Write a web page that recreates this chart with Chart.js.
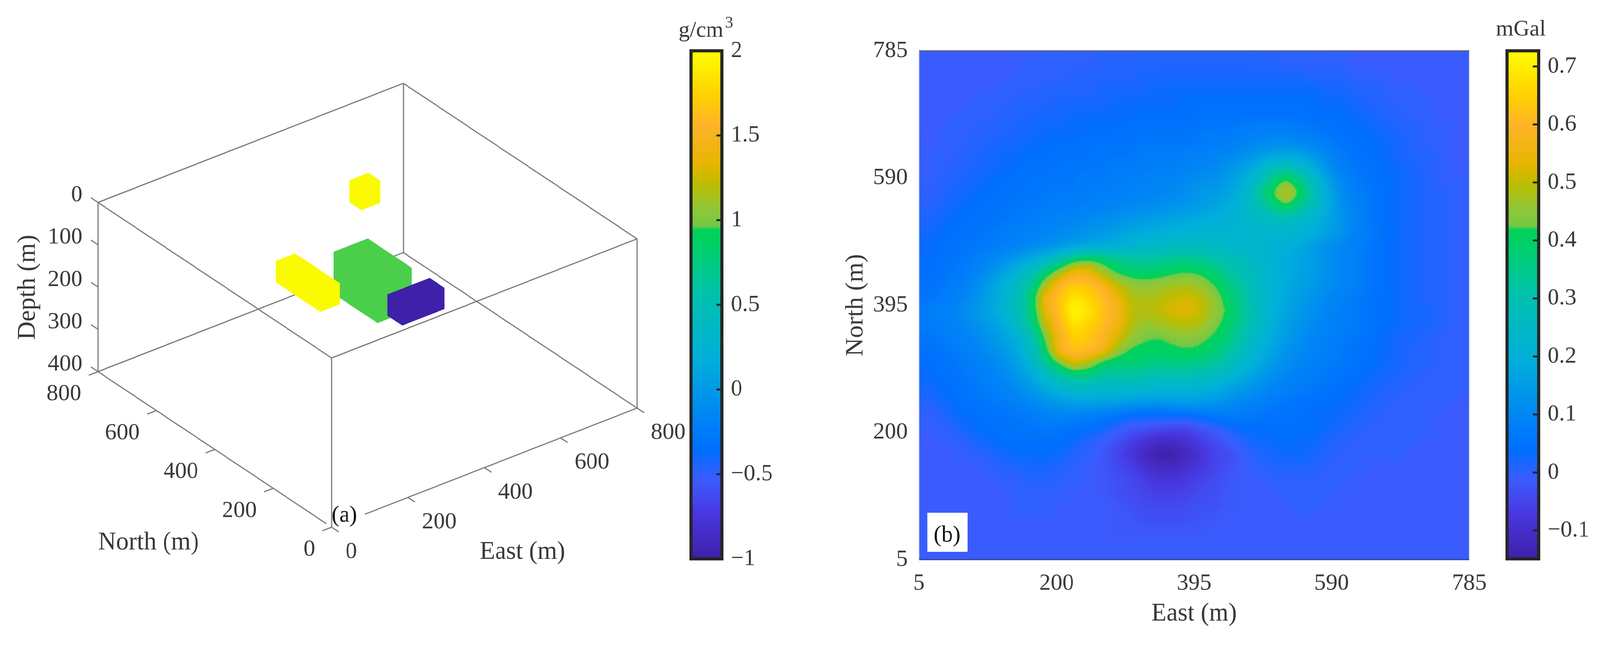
<!DOCTYPE html>
<html>
<head>
<meta charset="utf-8">
<title>Density model and gravity anomaly</title>
<script src="https://cdn.jsdelivr.net/npm/chart.js@4"></script>
<style>
  html, body { margin: 0; background: #fff; overflow: hidden; }
  /* the window comes out 4096 wide, so the 4149 layout is pressed to fit */
  #page { position: relative; width: 4149px; height: 1653px; overflow: hidden; transform-origin: 0 0; }
  canvas { position: absolute; top: 0; }
</style>
</head>
<body>
<div id="page">
<canvas id="model" width="1790" height="1653" style="left:0"></canvas>
<canvas id="densityBar" width="450" height="1653" style="left:1700px"></canvas>
<canvas id="map" width="1710" height="1653" style="left:2170px"></canvas>
<canvas id="gravityBar" width="349" height="1653" style="left:3860px"></canvas>
</div>
<script>
document.getElementById('page').style.transform = `scaleX(${Math.min(1, window.innerWidth / 4149)})`;

// Bodies of the density model (a), in metres
const bodyEastMin = [292, 200, 356, 495];
const bodyEastMax = [402, 250, 445, 544];
const bodyNorthMin = [140, 300, 308, 545];
const bodyNorthMax = [190, 452, 458, 585];
const bodyDepthMin = [40, 49, 85, 23];
const bodyDepthMax = [90, 99, 184, 75];
const bodyColors = ['#3f20a8', '#fafa00', '#4bcf4b', '#fafa00'];

const eastTicks = [0, 200, 400, 600, 800];
const northTicks = [0, 200, 400, 600, 800];
const depthTicks = [0, 100, 200, 300, 400];

// Colour bars
const densityTicks = [2, 1.5, 1, 0.5, 0, -0.5, -1];
const gravityTicks = [0.7, 0.6, 0.5, 0.4, 0.3, 0.2, 0.1, 0, -0.1];
const mapTicks = [5, 200, 395, 590, 785];

const colormapStops = [0, 0.09, 0.157, 0.214, 0.28, 0.365, 0.399, 0.513, 0.627, 0.648, 0.655, 0.684, 0.741, 0.775, 0.855, 0.912, 1];
const colormapColors = ['#3f1fa8', '#4838e0', '#3a5cff', '#006fff', '#0085f5', '#00a5e0', '#00b0d8', '#00c0b0', '#00d060', '#00d25a',
  '#74c844', '#8cc83a', '#c0bc00', '#e5b500', '#ffb428', '#ffd000', '#ffff00'];

// Gravity anomaly (b), mGal x 100, one row per 20 m from north 785 down to 5, east 5 to 785
const gravityRows = [
  [-1,-1,-1,-1,-1,-1,-1,-1,-1,-1, 0,0,0,0,0,0,0,1,1,1, 1,1,1,1,0,0,0,0,0,0, -1,-1,-1,-1,-1,-1,-1,-1,-1,-1],
  [-1,-1,-1,-1,-1,-1,-1,-1,0,0, 0,0,0,1,1,1,1,1,1,1, 1,1,1,1,1,1,0,0,0,0, 0,-1,-1,-1,-1,-1,-1,-1,-1,-1],
  [-1,-1,-1,-1,-1,-1,-1,0,0,0, 0,1,1,1,1,1,2,2,2,2, 2,2,2,2,2,2,2,2,1,1, 1,0,0,0,-1,-1,-1,-1,-1,-1],
  [-1,-1,-1,-1,-1,-1,0,0,0,1, 1,1,1,2,2,2,2,3,3,3, 3,3,3,3,3,3,3,3,3,2, 2,1,1,0,0,0,-1,-1,-1,-1],
  [-1,-1,-1,-1,0,0,0,1,1,1, 2,2,2,2,3,3,3,3,3,4, 4,4,4,4,4,4,4,4,4,3, 3,2,1,1,0,0,0,-1,-1,-1],
  [-1,-1,-1,0,0,0,1,1,2,2, 2,3,3,3,3,3,4,4,4,4, 5,5,5,5,5,5,5,5,4,4, 4,3,2,1,1,0,0,-1,-1,-1],
  [-1,-1,0,0,0,1,1,2,2,3, 3,3,4,4,4,5,5,5,5,5, 6,6,6,7,8,8,8,7,6,5, 4,4,3,2,1,1,0,0,-1,-1],
  [-1,-1,-0.5,0,1,1,2,2,3,3, 4,4,5,5,5,5,6,6,6,6, 7,7,8,9,10,11,11,10,9,7, 5,4,4,3,2,1,0,0,-1,-1],
  [-1,-0.5,0,0.7,1.2,2,2.5,3,4,4, 5,5,5,6,6,6,7,7,7,8, 8,9,10,12,14,16,17,16,13,10, 7,5,4,3,2,1,1,0,-1,-1],
  [-1,-0.4,0.3,1,1.7,2.3,3,4,5,5, 5,6,6,6,7,7,7,8,8,9, 10,11,13,16,20,27,30,25,19,12, 8,6,5,4,3,2,1,0,-1,-1],
  [-0.7,0,0.8,1.6,2.4,3.2,4,5,5,6, 6,6,7,7,8,8,9,9,10,11, 12,13,15,19,26,36,44,36,26,16, 10,7,5,4,3,2,1,0,0,-1],
  [-0.4,0.3,1.2,2.2,3.3,4,5,5.5,6,6.5, 7,7,7,8,8,9,10,10,11,12, 14,15,17,22,32,42,52,42,29,18, 11,8,6,4,3,2,1,1,0,-1],
  [0,0.8,2,3.3,4,4.6,5.3,6,6.5,7, 7.5,8,8.5,9,10,10.5,11,12,13,14, 15,17,19,23,28,34,41,34,27,19, 12,9,6,4,3,2,1,1,0,-1],
  [0.5,1.5,3.1,4,4.7,5.3,6,6.8,7.8,8.5, 9,10,11,12,13,14,15,16,17,18, 19,20,21,23,25,26,27,25,21,17, 13,9,6,4,3,2,1,1,0,-1],
  [1,2.8,3.9,4.7,5.3,6.2,7,8,9,10, 11,12,13,14,16,18,19,20,21,22, 22,22,22,23,23,23,23,22,20,16, 13,9,7,5,3,2,1,1,0,-1],
  [2,3.5,4.4,5.2,6.2,7.2,8.2,9.2,10.5,12, 13,15,17,18,19,21,23,24,25,26, 26,25,24,23,22,21,20,18,15,12, 10,8,6,4,3,2,1,1,0,-1],
  [3,3.9,5,6.2,8,10,12,14.5,18,22, 29,38,41,39,35,33,32,33,34,35, 33,31,29,27,24,21,19,17,15,12, 10,8,6,4,3,2,1,1,0,-1],
  [3.4,4.4,5.6,7.2,9.2,12,16,22,28,37, 47,57,56,47,41,39,38,39,41,42, 41,37,32,29,25,22,19,17,15,12, 10,8,6,4,3,2,1,1,0,-1],
  [3.8,5,6.4,8.2,11,15,20,27,34,48, 60,64,63,59,50,46,45,46,47,48, 46,42,36,31,26,22,19,16,14,12, 10,8,6,4,3,2,1,1,0,-1],
  [4.8,6,7.5,9.2,12,16,21,28,38,57, 63,69,66,62,56,49,48,49,51,52, 50,45,39,33,27,21,18,15,13,10, 9,7,5,4,3,2,1,1,0,-1],
  [6.5,8,9,11,14,17,21,28,37,55, 63,76,69,63,58,50,49,50,52,53, 51,46,41,34,27,21,17,14,12,10, 7,6,5,4,3,2,2,1,0,-1],
  [6,7.5,8.8,10,12,15,18,26,35,50, 61,69,66,62,57,49,46,47,49,50, 48,44,39,32,26,20,16,13,11,9, 8,7,5,4,3,2,2,1,0,-1],
  [5,6.3,7.5,9,10.5,13,16,21,29,44, 58,65,63,60,53,47,43,42,44,45, 44,41,37,30,24,19,15,12,10,8, 7,6,5,3,2,2,1,0,0,-1],
  [3.6,5,6.3,7.8,9.3,11.5,14,18,26,40, 60,63,62,59,47,41,40,40,41,42, 41,38,33,27,22,17,13,11,9,8, 6,5,4,3,2,1,1,0,0,-1],
  [3,4,5.2,6.7,8,10,12,16,23,33, 43,53,48,39,37,38,37,36,36,36, 35,33,29,24,19,15,12,10,8,7, 6,5,4,3,2,1,1,0,0,-1],
  [2,3.5,4.6,5.8,7,8.8,10.5,13,18,25, 31,34,35,31,31,31,30,29,29,29, 28,26,23,19,15,12,10,8,7,6, 5,4,3,2,1,1,0,0,0,-1],
  [0.8,2.6,4,5,6,7.2,9,11,14,18, 22,25,25,24,24,24,23,22,21,21, 20,19,16,14,12,10,8,7,6,5, 4,3,2,1,1,0,0,0,0,-1],
  [0,1.2,3,4.2,5.2,6,7,8.5,10.5,12.5, 14,16,16,16,16,15,14,14,15,16, 15,14,12,10,9,7,6,5,4,4, 3,3,1,1,0,0,0,0,-1,-1],
  [-0.5,0,1.5,3.2,4,4.8,5.5,6.5,7.5,8.5, 9,9,8,7,5,3,3,3,3,3, 5,7,7,7,6,5,5,4,4,3, 3,1,1,0,0,0,0,-1,-1,-1],
  [-1,-0.5,0,2,3.6,4.5,5,5.5,6,6.5, 6,5,4,3,0,-2,-3,-4,-5,-5, -3,-1,2,4,4,4,4,4,4,3, 1,1,0,0,0,0,0,-1,-1,-1],
  [-1,-1,-0.5,0,1.5,3,4,4.5,4.5,4.5, 4,3,1,-1,-3,-6,-9,-11,-11,-9, -6,-4,-1,1,3,3,4,3,3,1, 1,0,0,0,0,0,-1,-1,-1,-1],
  [-1,-1,-1,-0.5,0,1,2,3.5,3.5,3.5, 3,1,0,-2,-5,-8,-12,-15,-15,-12, -9,-5,-4,-1,1,2,3,3,2,1, 0,0,0,0,0,-1,-1,-1,-1,-1],
  [-1,-1,-1,-1,-1,0,1,1,2,2, 1,0,-1,-2,-4,-6,-9,-11,-11,-9, -7,-5,-3,-1,0,1,1,1,1,0, 0,0,-1,-1,-1,-1,-1,-1,-1,-1],
  [-1,-1,-1,-1,-1,-1,0,0,1,1, 0,0,-1,-2,-3,-4,-6,-8,-8,-7, -5,-4,-2,-1,-1,0,0,0,0,0, 0,-1,-1,-1,-1,-1,-1,-1,-1,-1],
  [-1,-1,-1,-1,-1,-1,-1,0,0,0, 0,-1,-1,-2,-3,-4,-5,-6,-6,-5, -4,-3,-2,-1,-1,-1,0,0,0,0, -1,-1,-1,-1,-1,-1,-1,-1,-1,-1],
  [-1,-1,-1,-1,-1,-1,-1,0,0,0, -1,-1,-1,-1,-2,-3,-4,-4,-4,-4, -3,-3,-2,-1,-1,-1,-1,0,0,-1, -1,-1,-1,-1,-1,-1,-1,-1,-1,-1],
  [-1,-1,-1,-1,-1,-1,-1,-1,-1,-1, -1,-1,-1,-1,-2,-2,-3,-3,-3,-3, -2,-2,-1,-1,-1,-1,-1,-1,-1,-1, -1,-1,-1,-1,-1,-1,-1,-1,-1,-1],
  [-1,-1,-1,-1,-1,-1,-1,-1,-1,-1, -1,-1,-1,-1,-2,-2,-2,-2,-2,-2, -2,-1,-1,-1,-1,-1,-1,-1,-1,-1, -1,-1,-1,-1,-1,-1,-1,-1,-1,-1],
  [-1,-1,-1,-1,-1,-1,-1,-1,-1,-1, -1,-1,-1,-1,-1,-1,-1,-1,-1,-1, -1,-1,-1,-1,-1,-1,-1,-1,-1,-1, -1,-1,-1,-1,-1,-1,-1,-1,-1,-1],
  [-1,-1,-1,-1,-1,-1,-1,-1,-1,-1, -1,-1,-1,-1,-1,-1,-1,-1,-1,-1, -1,-1,-1,-1,-1,-1,-1,-1,-1,-1, -1,-1,-1,-1,-1,-1,-1,-1,-1,-1],
];

const GRAVITY_MIN = -0.149;
const GRAVITY_MAX = 0.727;
const SERIF = '"Liberation Serif", "Times New Roman", serif';
const TEXT_COLOR = '#3a3a3a';
const LINE_COLOR = '#7c7c7c';
const TICK_SIZE = 60;

Chart.defaults.animation = false;
Chart.defaults.responsive = false;
Chart.defaults.devicePixelRatio = 1;
Chart.defaults.font.family = SERIF;
Chart.defaults.color = TEXT_COLOR;
Chart.defaults.plugins.legend.display = false;
Chart.defaults.plugins.tooltip.enabled = false;

function hexToRgb(hex) {
  return [1, 3, 5].map(i => parseInt(hex.slice(i, i + 2), 16));
}

// 256 entry table for the colormap
const colormapLut = [];
for (let k = 0; k < 256; k++) {
  const t = k / 255;
  let s = 0;
  while (s < colormapStops.length - 2 && t > colormapStops[s + 1]) s++;
  const f = (t - colormapStops[s]) / (colormapStops[s + 1] - colormapStops[s]);
  const a = hexToRgb(colormapColors[s]);
  const b = hexToRgb(colormapColors[s + 1]);
  colormapLut.push([0, 1, 2].map(c => Math.round(a[c] + (b[c] - a[c]) * f)));
}

function drawText(ctx, text, x, y, size, align, rotation, color) {
  ctx.save();
  ctx.font = size + 'px ' + SERIF;
  ctx.fillStyle = color || TEXT_COLOR;
  ctx.textAlign = align || 'center';
  ctx.textBaseline = 'alphabetic';
  ctx.translate(x, y);
  if (rotation) ctx.rotate(rotation);
  ctx.fillText(text, 0, 0);
  ctx.restore();
}

/* ---------- panel (a): isometric view of the model ---------- */

function project(east, north, depth) {
  return {
    x: 860 + 0.99 * east - 0.7575 * north,
    y: 1349 - 0.381 * east - 0.4975 * north - 1.0825 * (400 - depth),
  };
}

function bodyOutline(i) {
  const e0 = bodyEastMin[i], e1 = bodyEastMax[i];
  const n0 = bodyNorthMin[i], n1 = bodyNorthMax[i];
  const d0 = bodyDepthMin[i], d1 = bodyDepthMax[i];
  return [
    project(e0, n1, d0), project(e1, n1, d0), project(e1, n0, d0),
    project(e1, n0, d1), project(e0, n0, d1), project(e0, n1, d1),
    project(e0, n1, d0),
  ];
}

function frameSegments() {
  const pts = [];
  const seg = (a, b) => pts.push(project(...a), project(...b), { x: NaN, y: NaN });
  const gapNorth = 18, gapEast = 87, tick = 24;
  // top square
  seg([0, 0, 0], [800, 0, 0]);
  seg([800, 0, 0], [800, 800, 0]);
  seg([800, 800, 0], [0, 800, 0]);
  seg([0, 800, 0], [0, 0, 0]);
  // uprights
  seg([0, 0, 0], [0, 0, 400]);
  seg([800, 0, 0], [800, 0, 400]);
  seg([800, 800, 0], [800, 800, 400]);
  seg([0, 800, 0], [0, 800, 400]);
  // floor, the two front edges stop short of the (a) label
  seg([0, 800, 400], [800, 800, 400]);
  seg([800, 800, 400], [800, 0, 400]);
  seg([800, 0, 400], [gapEast, 0, 400]);
  seg([0, 800, 400], [0, gapNorth, 400]);
  // ticks
  eastTicks.forEach(e => seg([e, 0, 400], [e, -tick, 400]));
  northTicks.forEach(n => seg([0, n, 400], [-tick, n, 400]));
  depthTicks.forEach(d => seg([0, 800, d], [0, 800 + tick, d]));
  return pts;
}

const modelLabels = {
  id: 'modelLabels',
  afterDatasetsDraw(chart) {
    const { ctx, scales } = chart;
    const at = (e, n, d) => {
      const p = project(e, n, d);
      return { x: scales.x.getPixelForValue(p.x), y: scales.y.getPixelForValue(p.y) };
    };
    depthTicks.forEach(d => {
      const p = at(0, 800, d);
      drawText(ctx, String(d), p.x - 40, p.y - 3, TICK_SIZE, 'right');
    });
    northTicks.forEach(n => {
      const p = at(0, n, 400);
      drawText(ctx, String(n), p.x - 43, p.y + 73, TICK_SIZE, 'right');
    });
    eastTicks.forEach(e => {
      const p = at(e, 0, 400);
      drawText(ctx, String(e), p.x + 36, p.y + 79, TICK_SIZE, 'left');
    });
    drawText(ctx, 'North (m)', 385, 1406, 65);
    drawText(ctx, 'East (m)', 1355, 1430, 65);
    drawText(ctx, 'Depth (m)', 90, 735, 65, 'center', -Math.PI / 2);
    drawText(ctx, '(a)', 893, 1335, 60, 'center', 0, '#111');
  },
};

new Chart(document.getElementById('model'), {
  type: 'scatter',
  data: {
    datasets: [
      ...bodyColors.map((color, i) => ({
        data: bodyOutline(i),
        showLine: true,
        fill: 'shape',
        backgroundColor: color,
        borderColor: color,
        borderWidth: 1,
        pointRadius: 0,
      })),
      {
        data: frameSegments(),
        showLine: true,
        spanGaps: false,
        borderColor: LINE_COLOR,
        borderWidth: 3,
        pointRadius: 0,
      },
    ],
  },
  options: {
    layout: { autoPadding: false },
    scales: {
      x: { display: false, min: 0, max: 1790 },
      y: { display: false, min: 0, max: 1653, reverse: true },
    },
  },
  plugins: [modelLabels],
});

/* ---------- panel (b): gravity map ---------- */

// Cells are painted as grey levels by the chart, then smoothed in value space
// and toned through the colormap, like shading interp.
function valueToGrey(v) {
  const t = (v / 100 - GRAVITY_MIN) / (GRAVITY_MAX - GRAVITY_MIN);
  const g = Math.max(0, Math.min(255, Math.round(t * 255)));
  return `rgb(${g},${g},${g})`;
}

const mapPoints = [];
const mapCellColors = [];
gravityRows.forEach((row, r) => {
  row.forEach((v, c) => {
    mapPoints.push({ x: 5 + 20 * c, y: 785 - 20 * r });
    mapCellColors.push(valueToGrey(v));
  });
});

const mapShading = {
  id: 'mapShading',
  afterDatasetsDraw(chart) {
    const a = chart.chartArea;
    const L = Math.round(a.left), T = Math.round(a.top);
    const W = Math.round(a.right - a.left), H = Math.round(a.bottom - a.top);
    const margin = 60, sigma = 15;

    const pad = document.createElement('canvas');
    pad.width = W + 2 * margin;
    pad.height = H + 2 * margin;
    const padCtx = pad.getContext('2d');
    padCtx.drawImage(chart.canvas, L, T, W, H, 0, 0, pad.width, pad.height);
    padCtx.drawImage(chart.canvas, L, T, W, H, margin, margin, W, H);

    const out = document.createElement('canvas');
    out.width = W;
    out.height = H;
    const outCtx = out.getContext('2d', { willReadFrequently: true });
    outCtx.filter = `blur(${sigma}px)`;
    outCtx.drawImage(pad, -margin, -margin);

    const img = outCtx.getImageData(0, 0, W, H);
    const px = img.data;
    for (let i = 0; i < px.length; i += 4) {
      const c = colormapLut[px[i]];
      px[i] = c[0]; px[i + 1] = c[1]; px[i + 2] = c[2]; px[i + 3] = 255;
    }
    chart.ctx.putImageData(img, L, T);

    const ctx = chart.ctx;
    ctx.save();
    const line = (x0, y0, x1, y1, color, width) => {
      ctx.strokeStyle = color;
      ctx.lineWidth = width;
      ctx.beginPath();
      ctx.moveTo(x0, y0);
      ctx.lineTo(x1, y1);
      ctx.stroke();
    };
    line(L, T, L, T + H, 'rgba(170,180,230,0.9)', 2);
    line(L + W, T, L + W, T + H, 'rgba(170,180,230,0.9)', 2);
    line(L, T, L + W, T, 'rgba(95,95,115,0.9)', 3);
    line(L, T + H, L + W, T + H, 'rgba(45,60,140,0.9)', 3);

    // (b) tag
    ctx.fillStyle = '#fff';
    ctx.fillRect(L + 22, T + H - 120, 104, 100);
    ctx.restore();
    drawText(ctx, '(b)', L + 73, T + H - 46, 60, 'center', 0, '#111');
  },
};

new Chart(document.getElementById('map'), {
  type: 'scatter',
  data: {
    datasets: [{
      data: mapPoints,
      pointStyle: 'rect',
      pointRadius: 26.5,
      pointBorderWidth: 0,
      pointBackgroundColor: mapCellColors,
      clip: 0,
    }],
  },
  options: {
    layout: { autoPadding: false, padding: { top: 130, right: 56, left: 0, bottom: 0 } },
    scales: {
      x: {
        type: 'linear',
        min: 5,
        max: 785,
        afterBuildTicks: s => { s.ticks = mapTicks.map(v => ({ value: v })); },
        afterFit: s => { s.height = 221; },
        grid: { display: false, drawTicks: false },
        border: { display: false },
        ticks: { font: { size: TICK_SIZE }, padding: 25, maxRotation: 0, autoSkip: false },
        title: { display: true, text: 'East (m)', font: { size: 65 }, padding: { top: 0, bottom: 43 } },
      },
      y: {
        type: 'linear',
        min: 5,
        max: 785,
        afterBuildTicks: s => { s.ticks = mapTicks.map(v => ({ value: v })); },
        afterFit: s => { s.width = 213; },
        grid: { display: false, drawTicks: false },
        border: { display: false },
        ticks: { font: { size: TICK_SIZE }, padding: 29, autoSkip: false },
        title: { display: true, text: 'North (m)', font: { size: 65 }, padding: { top: 11, bottom: 0 } },
      },
    },
  },
  plugins: [mapShading],
});

/* ---------- colour bars ---------- */

function colorbar(id, lo, hi, tickValues, paddingLeft, axisWidth, tickSize, drawTitle) {
  const frame = {
    id: 'frame' + id,
    afterDatasetsDraw(chart) {
      const { ctx, chartArea: a, scales } = chart;
      ctx.save();
      ctx.strokeStyle = '#262626';
      ctx.lineWidth = 5;
      tickValues.forEach(v => {
        const y = scales.y.getPixelForValue(v);
        ctx.beginPath();
        ctx.moveTo(a.right - tickSize, y);
        ctx.lineTo(a.right, y);
        ctx.stroke();
      });
      ctx.lineWidth = 8;
      ctx.strokeRect(a.left, a.top, a.right - a.left, a.bottom - a.top);
      ctx.restore();
      drawTitle(ctx);
    },
  };
  new Chart(document.getElementById(id), {
    type: 'bar',
    data: {
      labels: [''],
      datasets: [{
        data: [[lo, hi]],
        barPercentage: 1,
        categoryPercentage: 1,
        backgroundColor(c) {
          const a = c.chart.chartArea;
          if (!a) return 'transparent';
          const g = c.chart.ctx.createLinearGradient(0, a.bottom, 0, a.top);
          colormapStops.forEach((s, i) => g.addColorStop(s, colormapColors[i]));
          return g;
        },
      }],
    },
    options: {
      layout: { autoPadding: false, padding: { top: 130, bottom: 223, left: paddingLeft, right: 0 } },
      scales: {
        x: { display: false },
        y: {
          position: 'right',
          min: lo,
          max: hi,
          afterBuildTicks: s => { s.ticks = tickValues.map(v => ({ value: v })); },
          afterFit: s => { s.width = axisWidth; },
          grid: { display: false, drawTicks: false },
          border: { display: false },
          ticks: {
            font: { size: TICK_SIZE },
            padding: 23,
            autoSkip: false,
            callback: v => String(v).replace('-', '\u2212'),
          },
        },
      },
    },
    plugins: [frame],
  });
}

colorbar('densityBar', -1, 2, densityTicks, 92, 278, 14, ctx => {
  drawText(ctx, 'g/cm', 60, 94, 58, 'left');
  drawText(ctx, '3', 180, 71, 42, 'left');
});
// the gravity canvas runs past the page edge so the axis box is wide enough for "-0.1"
colorbar('gravityBar', GRAVITY_MIN, GRAVITY_MAX, gravityTicks, 48, 219, 15, ctx => {
  drawText(ctx, 'mGal', 84, 91, 58);
});
</script>
</body>
</html>
